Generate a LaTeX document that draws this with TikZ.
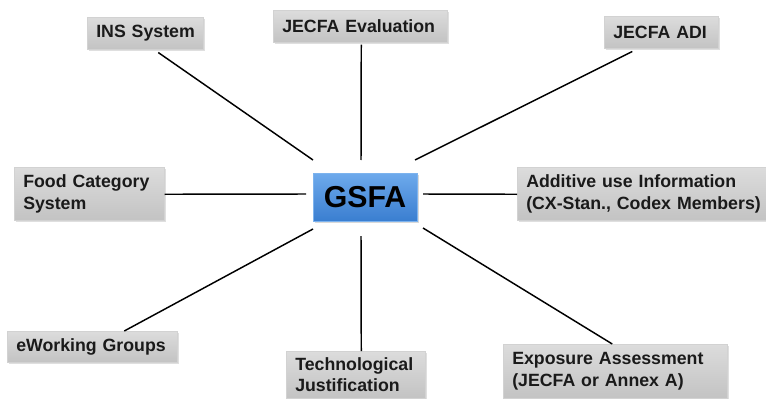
\documentclass[tikz,border=0pt]{standalone}
\usepackage{fontspec}
\setmainfont{Liberation Sans}
\usetikzlibrary{shadows}
\definecolor{boxtop}{HTML}{DCDCDC}
\definecolor{boxbot}{HTML}{C3C3C3}
\definecolor{boxedge}{HTML}{D2D2D2}
\definecolor{bluetop}{HTML}{6EAAEC}
\definecolor{bluebot}{HTML}{3A7ED0}
\definecolor{blueedge}{HTML}{7DB3EE}
\definecolor{txt}{HTML}{1A1A1A}
\begin{document}
\begin{tikzpicture}[x=0.75pt,y=-0.75pt,
  greybox/.style={draw=boxedge, line width=0.4pt, top color=boxtop, bottom color=boxbot,
    drop shadow={shadow xshift=1pt, shadow yshift=-1.2pt, opacity=0.25},
    anchor=north west, inner xsep=6.75pt, inner ysep=0pt, align=left,
    text=txt, font=\fontsize{13.3}{16.2}\selectfont\bfseries},
  centerbox/.style={draw=blueedge, line width=0.4pt, top color=bluetop, bottom color=bluebot,
    drop shadow={shadow xshift=1.2pt, shadow yshift=-1.5pt, opacity=0.3},
    inner sep=0pt, minimum width=78pt, minimum height=36pt,
    text=black, font=\fontsize{22.7}{26}\selectfont\bfseries},
  link/.style={draw=black, line width=1.1pt}]
\useasboundingbox (0,0) rectangle (766,399);

% centre
\node[centerbox] (gsfa) at (365,197) {GSFA};

% outer boxes
\node[greybox, text width=73.5pt, minimum width=87pt, minimum height=24pt] (ins) at (87,17) {\mbox{INS System}};
\node[greybox, text width=117pt, minimum width=130.5pt, minimum height=24pt] (eval) at (273,10) {\mbox{JECFA Evaluation}};
\node[greybox, text width=72pt, minimum width=85.5pt, minimum height=24pt] (adi) at (604,16) {\mbox{JECFA ADI}};
\node[greybox, text width=99pt, minimum width=112.5pt, minimum height=39.75pt] (food) at (14,167) {\mbox{Food Category}\\\mbox{System}};
\node[greybox, text width=173pt, minimum width=186.5pt, minimum height=39.75pt] (add) at (517,167) {\mbox{Additive use Information}\\\mbox{(CX-Stan., Codex Members)}};
\node[greybox, text width=114pt, minimum width=127.5pt, minimum height=23.25pt] (ework) at (7,331) {\mbox{eWorking Groups}};
\node[greybox, text width=90.75pt, minimum width=104.25pt, minimum height=35.25pt] (tech) at (286,351) {\mbox{Technological}\\\mbox{Justification}};
\node[greybox, text width=154.5pt, minimum width=168pt, minimum height=40.5pt] (exp) at (503,344) {\mbox{Exposure Assessment}\\\mbox{(JECFA or Annex A)}};

% inner ends of the spokes
\coordinate (g1) at (313,160);
\coordinate (g2) at (361,160);
\coordinate (g3) at (415,160);
\coordinate (g4) at (306,194);
\coordinate (g5) at (423,194);
\coordinate (g6) at (313,229);
\coordinate (g7) at (361,236);
\coordinate (g8) at (423,228);

% spokes
\draw[link] ([shift={(13,3)}]ins.south) -- (g1);
\draw[link] ([shift={(1,2)}]eval.south) -- (g2);
\draw[link] ([shift={(-29,3)}]adi.south) -- (g3);
\draw[link] ([shift={(0,0.5)}]food.east) -- (g4);
\draw[link] ([shift={(0,0.5)}]add.west) -- (g5);
\draw[link] ([shift={(32,0)}]ework.north) -- (g6);
\draw[link] ([shift={(5.5,0)}]tech.north) -- (g7);
\draw[link] ([shift={(-3,0)}]exp.north) -- (g8);
\end{tikzpicture}
\end{document}
